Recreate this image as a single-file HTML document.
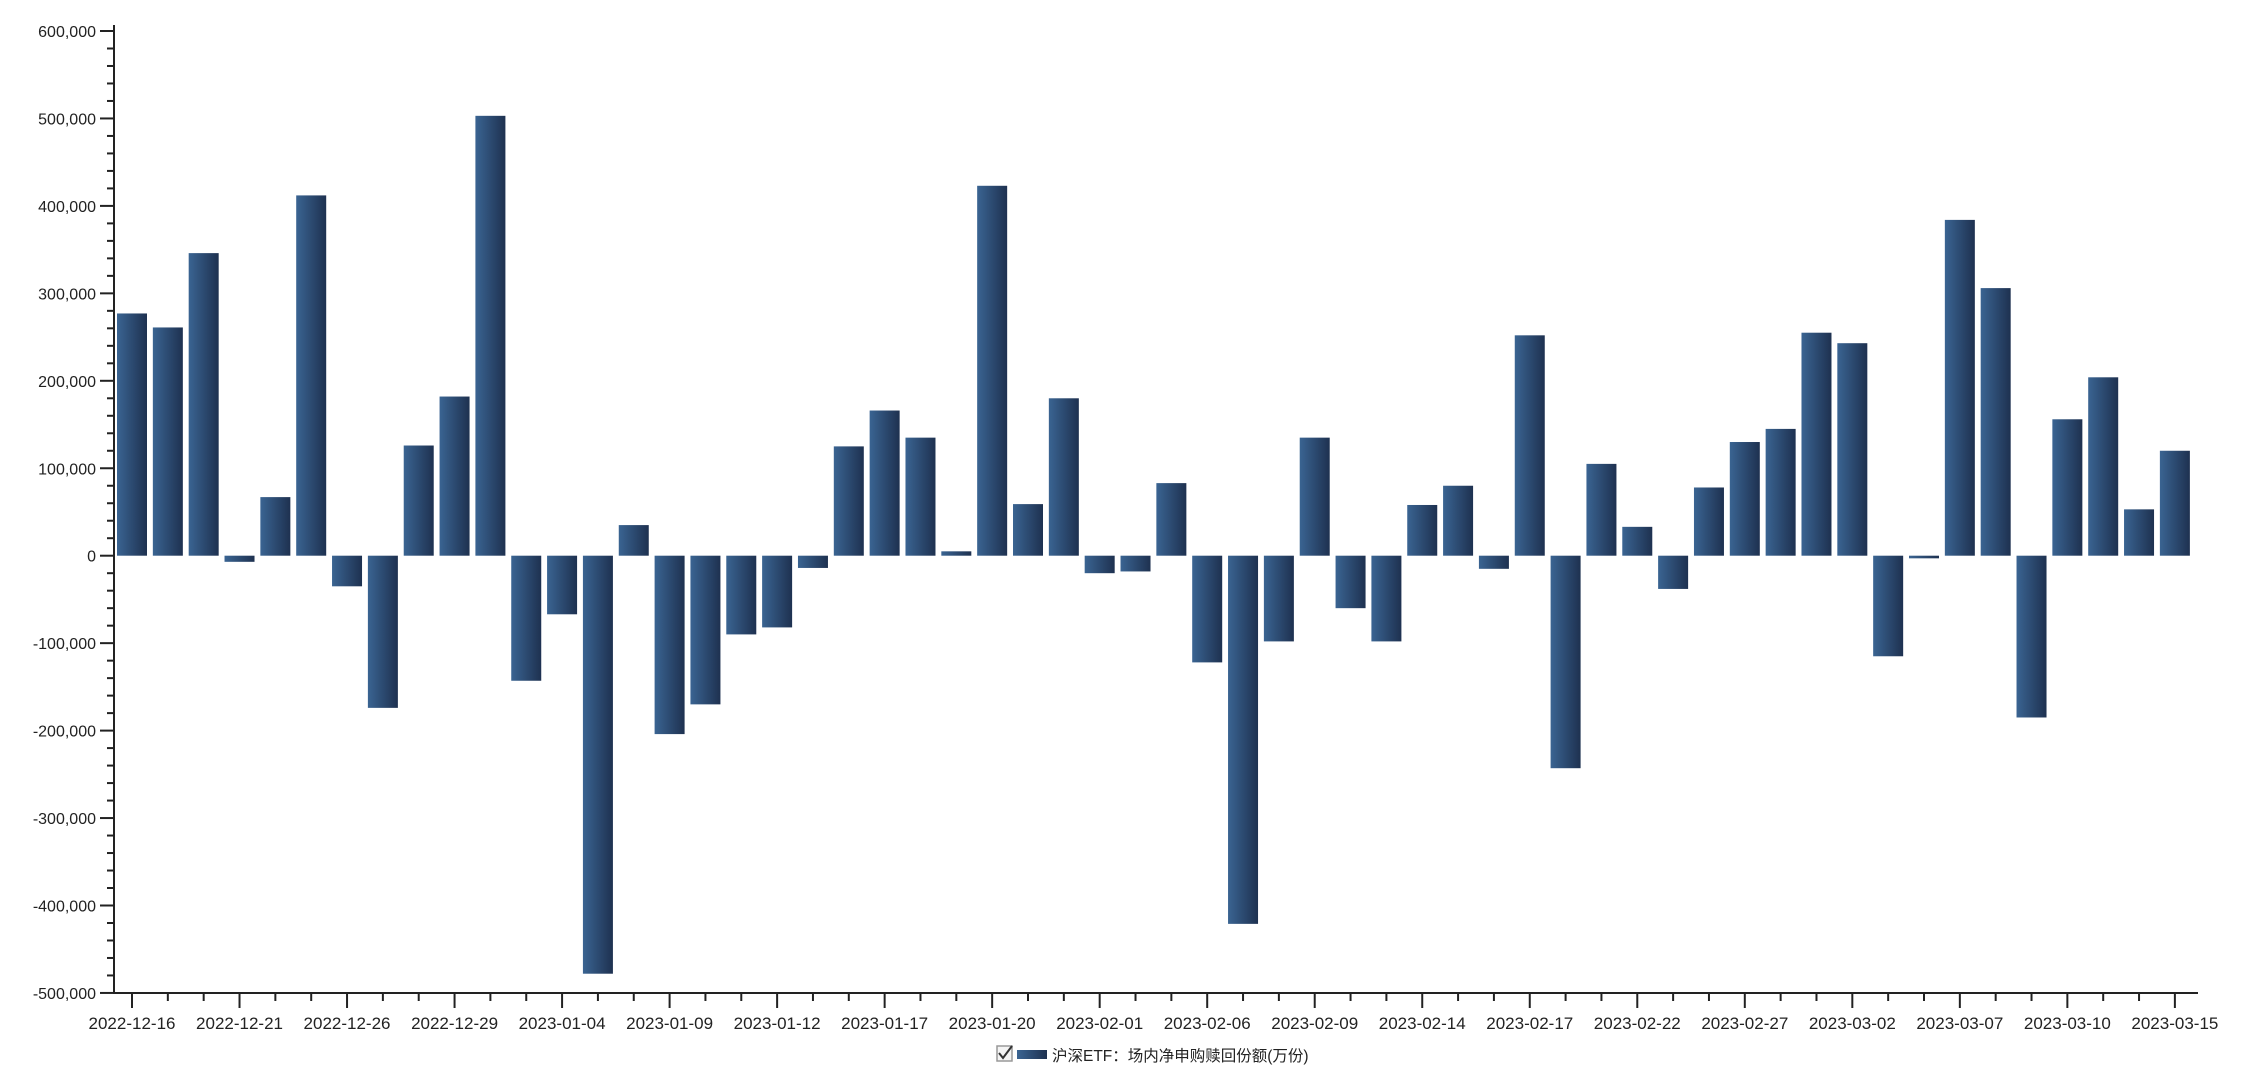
<!DOCTYPE html>
<html><head><meta charset="utf-8"><style>
html,body{margin:0;padding:0;background:#fff;width:2266px;height:1090px;overflow:hidden}
svg text{font-family:"Liberation Sans","Noto Sans CJK SC",sans-serif;fill:#222}
</style></head><body>
<svg id="s" width="2266" height="1090" xmlns="http://www.w3.org/2000/svg">
<defs><linearGradient id="g" x1="0" x2="1" y1="0" y2="0"><stop offset="0" stop-color="#3a6492"/><stop offset="1" stop-color="#1e3150"/></linearGradient></defs>
<g id="bars"></g>
<g id="ax" stroke="#222" stroke-width="2"></g>
<g id="lbl" font-size="16"></g>
<rect x="997" y="1046" width="15" height="15" fill="#f4f4f4" stroke="#999" stroke-width="1.5"/>
<path d="M999 1053 l4 5 l9 -12" fill="none" stroke="#333" stroke-width="2"/>
<rect x="1017" y="1050" width="30" height="9" fill="url(#g)"/>
<text x="1052" y="1061" font-size="15.5">沪深ETF：场内净申购赎回份额(万份)</text>
</svg>
<script>
var v=[277,261,346,-7,67,412,-35,-174,126,182,503,-143,-67,-478,35,-204,-170,-90,-82,-14,125,166,135,5,423,59,180,-20,-18,83,-122,-421,-98,135,-60,-98,58,80,-15,252,-243,105,33,-38,78,130,145,255,243,-115,-3,384,306,-185,156,204,53,120];
var d=["2022-12-16","2022-12-21","2022-12-26","2022-12-29","2023-01-04","2023-01-09","2023-01-12","2023-01-17","2023-01-20","2023-02-01","2023-02-06","2023-02-09","2023-02-14","2023-02-17","2023-02-22","2023-02-27","2023-03-02","2023-03-07","2023-03-10","2023-03-15"];
var z=555.7,k=0.8745,x0=132,sp=35.84,ax=114,yb=993;
var b="",a="",l="";
v.forEach(function(t,i){var cx=x0+i*sp;var h=Math.abs(t)*k;var y=t>=0?z-h:z;b+='<rect x="'+(cx-15)+'" y="'+y+'" width="30" height="'+Math.max(h,1.5)+'" fill="url(#g)"/>';
var maj=i%3==0;a+='<line x1="'+cx+'" x2="'+cx+'" y1="'+yb+'" y2="'+(yb+(maj?15:8))+'"/>';
if(maj)l+='<text x="'+cx+'" y="'+(yb+36)+'" text-anchor="middle" font-size="17">'+d[i/3]+'</text>';});
a+='<line x1="'+ax+'" x2="'+ax+'" y1="25" y2="'+(yb+1)+'"/><line x1="'+(ax-1)+'" x2="2198" y1="'+yb+'" y2="'+yb+'"/>';
for(var j=0;j<=55;j++){var y=31+j*k*20;var maj=j%5==0;a+='<line x1="'+(ax-(maj?14:7))+'" x2="'+ax+'" y1="'+y+'" y2="'+y+'"/>';
if(maj){var val=600-j*20;var s=val==0?"0":(val<0?"-":"")+Math.abs(val)+",000";l+='<text x="'+(ax-18)+'" y="'+(y+6)+'" text-anchor="end">'+s+'</text>';}}
document.getElementById("bars").innerHTML=b;document.getElementById("ax").innerHTML=a;document.getElementById("lbl").innerHTML=l;
</script>
</body></html>
